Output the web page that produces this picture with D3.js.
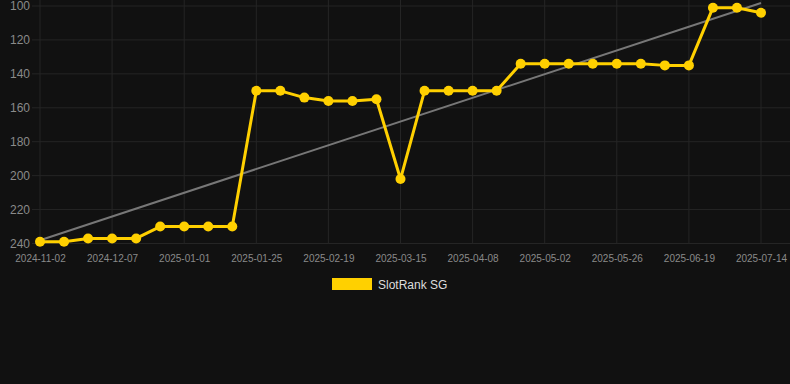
<!DOCTYPE html>
<html><head><meta charset="utf-8">
<script src="https://cdn.jsdelivr.net/npm/d3@7"></script>
<style>
html,body{margin:0;padding:0;background:#111111;}
svg{display:block;}
</style></head>
<body><svg id="c" width="790" height="384"></svg>
<script>
const dates = ["2024-11-02","2024-11-14","2024-11-26","2024-12-07","2024-12-15","2024-12-24","2025-01-01","2025-01-09","2025-01-17","2025-01-25","2025-02-02","2025-02-11","2025-02-19","2025-02-27","2025-03-07","2025-03-15","2025-03-23","2025-03-31","2025-04-08","2025-04-16","2025-04-24","2025-05-02","2025-05-10","2025-05-18","2025-05-26","2025-06-03","2025-06-11","2025-06-19","2025-06-27","2025-07-06","2025-07-14"];
const ranks = [239,239,237,237,237,230,230,230,230,150,150,154,156,156,155,202,150,150,150,150,134,134,134,134,134,134,135,135,101,101,104];
const yTicks = [100,120,140,160,180,200,220,240];
const seriesName = "SlotRank SG";

const FONT = "'Liberation Sans', Arial, Helvetica, sans-serif";
const svg = d3.select("#c");
const W = 790, H = 384;
const x = d3.scalePoint().domain(dates).range([40, 761]);
const y = d3.scaleLinear().domain([100, 240]).range([6, 243.5]);

// grid
const g = svg.append("g");
g.selectAll("line.h").data(yTicks).join("line")
  .attr("x1", 32).attr("x2", W).attr("y1", d => y(d)).attr("y2", d => y(d))
  .attr("stroke", "#252525").attr("stroke-width", 1);
const xTickDates = dates.filter((d, i) => i % 3 === 0);
g.selectAll("line.v").data(xTickDates).join("line")
  .attr("x1", d => x(d)).attr("x2", d => x(d)).attr("y1", 0).attr("y2", y(240))
  .attr("stroke", "#252525").attr("stroke-width", 1);

// y axis labels
const yAxis = d3.axisLeft(y).tickValues(yTicks).tickSize(0).tickPadding(0);
const ya = svg.append("g").attr("transform", "translate(30,0)").call(yAxis);
ya.select(".domain").remove();
ya.selectAll("text").attr("fill", "#8a8a8a").style("font-family", FONT).style("font-size", "12px");

// x axis labels
const xAxis = d3.axisBottom(x).tickValues(xTickDates).tickSize(0).tickPadding(0);
const xa = svg.append("g").attr("transform", `translate(0,${y(240) + 11})`).call(xAxis);
xa.select(".domain").remove();
xa.selectAll("text").attr("fill", "#8a8a8a").style("font-family", FONT).style("font-size", "10px");

// trend line (linear regression)
const n = ranks.length;
const idx = d3.range(n);
const mx = d3.mean(idx), my = d3.mean(ranks);
const slope = d3.sum(idx, i => (i - mx) * (ranks[i] - my)) / d3.sum(idx, i => (i - mx) ** 2);
const icpt = my - slope * mx;
svg.append("line")
  .attr("x1", x(dates[0])).attr("y1", y(icpt))
  .attr("x2", x(dates[n - 1])).attr("y2", y(icpt + slope * (n - 1)))
  .attr("stroke", "#777777").attr("stroke-width", 2);

// series line
const line = d3.line().x((d, i) => x(dates[i])).y(d => y(d));
svg.append("path").datum(ranks).attr("d", line)
  .attr("fill", "none").attr("stroke", "#FFD000").attr("stroke-width", 3).attr("stroke-linejoin", "round");
svg.selectAll("circle.p").data(ranks).join("circle")
  .attr("cx", (d, i) => x(dates[i])).attr("cy", d => y(d)).attr("r", 5)
  .attr("fill", "#FFD000");

// legend
const lg = svg.append("g");
lg.append("rect").attr("x", 332).attr("y", 278).attr("width", 40).attr("height", 12).attr("fill", "#FFD000");
lg.append("text").attr("x", 378).attr("y", 288.5).text(seriesName)
  .attr("fill", "#dddddd").style("font-family", FONT).style("font-size", "12px");
</script></body></html>
